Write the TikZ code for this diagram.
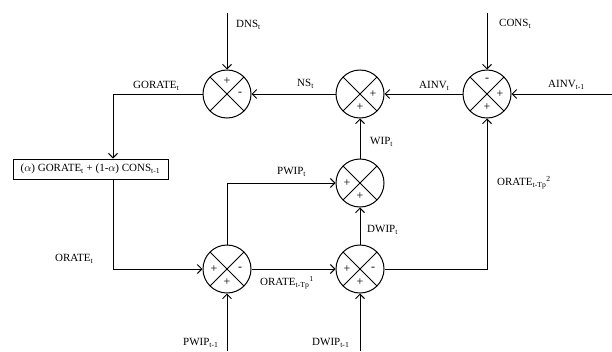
\documentclass[tikz,border=0pt]{standalone}
\usepackage{fontspec}
\setmainfont{Liberation Serif}
\usetikzlibrary{arrows.meta}
\tikzset{
  % summing junction: circle with a cross
  sumnode/.style = {circle, draw, line width=1pt, minimum size=48pt, inner sep=0pt,
    path picture={\draw[line width=0.9pt]
      (path picture bounding box.north west) -- (path picture bounding box.south east)
      (path picture bounding box.north east) -- (path picture bounding box.south west);}},
  % signal lines
  flow/.style    = {line width=1pt, -{Straight Barb[length=4.5pt,width=9pt,line width=1pt]}},
  % labels
  sig/.style     = {font=\fontsize{11}{12}\selectfont, inner sep=0pt, anchor=west},
  sgn/.style     = {font=\fontsize{12}{12}\selectfont, inner sep=0pt},
  blockbox/.style= {draw, line width=1pt, minimum width=155pt, minimum height=20pt,
    inner sep=0pt, font=\fontsize{11}{12}\selectfont},
}

\begin{document}
\begin{tikzpicture}[x=1pt, y=-1pt]
  \useasboundingbox (0,0) rectangle (612,351);
  % summing junctions
  \node[sumnode] (sDNS)   at (227,94)  {};
  \node[sumnode] (sNS)    at (360,94)  {};
  \node[sumnode] (sCONS)  at (487,94)  {};
  \node[sumnode] (sWIP)   at (360,183) {};
  \node[sumnode] (sORATE) at (227,269) {};
  \node[sumnode] (sDWIP)  at (360,269) {};
  % ordering rule
  \node[blockbox] (ordbox) at (90.5,169)
    {($\alpha$) GORATE\textsubscript{t} + (1-$\alpha$) CONS\textsubscript{t-1}};
  % signs
  \node[sgn] at ([yshift=13pt]sDNS.center) {+};
  \node[sgn] at ([xshift=13pt]sDNS.center) {-};
  \node[sgn] at ([xshift=13pt]sNS.center) {+};
  \node[sgn] at ([yshift=-13pt]sNS.center) {+};
  \node[sgn] at ([yshift=14pt]sCONS.center) {-};
  \node[sgn] at ([xshift=13pt]sCONS.center) {+};
  \node[sgn] at ([yshift=-13pt]sCONS.center) {+};
  \node[sgn] at ([xshift=-13pt]sWIP.center) {+};
  \node[sgn] at ([yshift=-13pt]sWIP.center) {+};
  \node[sgn] at ([xshift=-13pt]sORATE.center) {+};
  \node[sgn] at ([xshift=13pt]sORATE.center) {-};
  \node[sgn] at ([yshift=-13pt]sORATE.center) {+};
  \node[sgn] at ([xshift=-13pt]sDWIP.center) {+};
  \node[sgn] at ([xshift=13pt]sDWIP.center) {-};
  \node[sgn] at ([yshift=-13pt]sDWIP.center) {+};
  % free ends
  \coordinate (inDNS)  at (227,13);
  \coordinate (inCONS) at (487,13);
  \coordinate (inAINV) at (612,94);
  \coordinate (inPWIP) at (227,351);
  \coordinate (inDWIP) at (360,351);
  \coordinate (gbend)  at (113,94);
  % connections
  \draw[flow] (inDNS) -- (sDNS);
  \draw[flow] (inCONS) -- (sCONS);
  \draw[flow] (inAINV) -- (sCONS);
  \draw[flow] (sCONS) -- (sNS);
  \draw[flow] (sNS) -- (sDNS);
  \draw[flow] (sDNS) -- (gbend) -- (gbend |- ordbox.north);
  \draw[flow] (ordbox.south -| gbend) |- (sORATE);
  \draw[flow] (sORATE) |- (sWIP);
  \draw[flow] (inPWIP) -- (sORATE);
  \draw[flow] (sORATE) -- (sDWIP);
  \draw[flow] (inDWIP) -- (sDWIP);
  \draw[flow] (sDWIP) -- (sWIP);
  \draw[flow] (sWIP) -- (sNS);
  \draw[flow] (sDWIP) -| (sCONS);
  % signal labels
  \node[sig] (lDNS)   at (236,25)  {DNS\textsubscript{t}};
  \node[sig] (lCONS)  at (499,24)  {CONS\textsubscript{t}};
  \node[sig] (lAINVo) at (548,85)  {AINV\textsubscript{t-1}};
  \node[sig] (lAINV)  at (419,86)  {AINV\textsubscript{t}};
  \node[sig] (lNS)    at (297,84)  {NS\textsubscript{t}};
  \node[sig] (lGOR)   at (133,86)  {GORATE\textsubscript{t}};
  \node[sig] (lWIP)   at (370,142) {WIP\textsubscript{t}};
  \node[sig] (lPWIP)  at (277,172) {PWIP\textsubscript{t}};
  \node[sig] (lDWIP)  at (367,230) {DWIP\textsubscript{t}};
  \node[sig] (lOR1)   at (260,283) {ORATE\textsubscript{t-Tp}\textsuperscript{1}};
  \node[sig] (lDWIPo) at (312,343) {DWIP\textsubscript{t-1}};
  \node[sig] (lPWIPo) at (183,343) {PWIP\textsubscript{t-1}};
  \node[sig] (lOR)    at (55,259)  {ORATE\textsubscript{t}};
  \node[sig] (lOR2)   at (497,183) {ORATE\textsubscript{t-Tp}\textsuperscript{2}};
\end{tikzpicture}
\end{document}
